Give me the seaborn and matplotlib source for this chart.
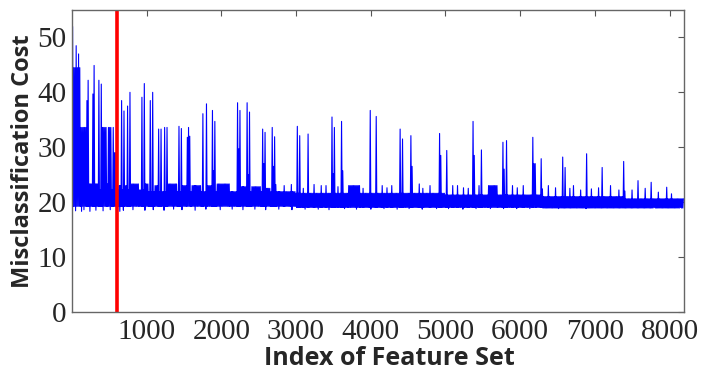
import numpy as np
import pandas as pd
import matplotlib
matplotlib.use("Agg")
import matplotlib.pyplot as plt
import seaborn as sns

# ---- data ----
n_sets = 8192
red_index = 603

band_edges = [1, 1000, 3000, 5000, 6300, 7400, 8193]
band_lo = [19.2, 19.2, 19.0, 19.0, 18.9, 18.9]
band_hi = [22.2, 21.9, 21.6, 21.3, 21.0, 20.6]

plateau_start = [1, 110, 230, 300, 400, 460, 485, 540, 620, 700, 790, 980, 1100, 1280, 1480,
                 1600, 1800, 1930, 2260, 2400, 2600, 3700, 5570]
plateau_end = [110, 230, 270, 345, 460, 485, 525, 600, 660, 740, 900, 1030, 1150, 1410, 1530,
               1730, 1870, 2120, 2340, 2530, 2660, 3850, 5690]
plateau_top = [44.5, 33.6, 23.3, 23.3, 33.6, 23.3, 33.6, 29.0, 23.0, 23.0, 23.3, 23.3, 23.0,
               23.3, 23.0, 23.0, 23.0, 23.3, 22.8, 22.8, 22.5, 23.0, 23.0]

spike_idx = [8, 60, 88, 190, 220, 280, 292, 360, 385, 545, 663, 685, 745, 768, 933, 968,
             1044, 1071, 1155, 1190, 1230, 1262, 1422, 1455, 1538, 1550, 1575, 1747, 1792,
             1880, 1915, 2215, 2250, 2348, 2380, 2548, 2585, 2673, 2713, 3007, 3050, 3150,
             3474, 3505, 3608, 3985, 4075, 4386, 4425, 4538, 4916, 4935, 5010, 5366, 5380,
             5477, 5766, 5806, 6167, 6190, 6273, 6562, 6600, 6888, 7088, 7377, 7577, 7742, 7964]
spike_val = [52.0, 48.5, 47.0, 38.5, 42.2, 39.7, 44.9, 42.2, 41.5, 33.6, 38.5, 36.6, 37.5, 40.0,
             39.1, 41.6, 38.5, 40.0, 33.3, 33.3, 33.6, 33.6, 33.8, 33.4, 31.8, 33.6, 32.0, 36.1,
             37.9, 36.7, 34.7, 38.1, 36.7, 38.1, 36.4, 33.3, 32.7, 33.6, 31.9, 33.8, 32.1, 32.4,
             35.5, 33.6, 34.7, 36.7, 35.6, 33.3, 31.5, 32.1, 32.5, 28.5, 29.4, 34.7, 28.5, 29.5,
             30.9, 31.2, 31.8, 27.0, 27.9, 28.2, 26.3, 28.8, 26.3, 27.4, 23.9, 23.6, 22.7]

shoulder_idx = [1430, 1545, 1755, 1900, 2225, 2360, 2560, 2690, 3020, 3160, 3490, 3615, 3995,
                4395, 4545, 4925, 5372, 5785, 6180]
shoulder_val = [29.0, 29.0, 25.0, 25.7, 29.7, 25.0, 27.0, 26.5, 25.7, 28.8, 25.2, 25.7, 29.1,
                27.0, 26.5, 26.0, 28.0, 26.0, 27.0]

bump_idx = [2726, 2837, 2927, 3100, 3238, 3327, 3394, 3560, 3900, 4151, 4220, 4284, 4640, 4700,
            4796, 5085, 5152, 5240, 5300, 5450, 5886, 5950, 6041, 6300, 6375, 6465, 6665, 6709,
            6798, 6950, 7043, 7199, 7310, 7400, 7489, 7666, 7844, 8023]
bump_val = [23.2, 23.0, 23.2, 22.5, 23.2, 23.0, 23.0, 22.8, 22.5, 23.0, 22.6, 23.0, 23.3, 22.5,
            23.0, 23.0, 23.0, 22.6, 22.5, 23.0, 23.0, 22.6, 23.0, 22.4, 23.0, 22.6, 22.5, 23.0,
            22.2, 22.4, 22.6, 23.0, 22.2, 22.0, 22.2, 22.5, 21.8, 21.5]

dip_idx = [60, 130, 170, 250, 330, 420, 520, 640, 700, 820, 980, 1100, 1240, 1370, 1480, 1650,
           1800, 1990, 2150, 2300, 2450, 2600, 2780, 2950, 3120, 3300, 3450, 3650, 3820, 4000,
           4180, 4350, 4520, 4700, 4880, 5050, 5230, 5420, 5600, 5780, 5960, 6140, 6330, 6520,
           6700, 6880, 7060, 7250, 7440, 7620, 7800, 7980, 8150]
dip_val = [18.4, 18.3, 18.6, 18.3, 18.5, 18.4, 18.6, 18.3, 18.5, 18.6, 18.5, 18.6, 18.5, 18.7,
           18.6, 18.5, 18.7, 18.6, 18.7, 18.6, 18.7, 18.6, 18.7, 18.6, 18.7, 18.7, 18.6, 18.8,
           18.7, 18.7, 18.8, 18.7, 18.8, 18.7, 18.8, 18.8, 18.7, 18.8, 18.8, 18.8, 18.8, 18.8,
           18.9, 18.8, 18.9, 18.8, 18.9, 18.9, 18.9, 18.9, 19.0, 18.9, 19.0]

xticks = [1000, 2000, 3000, 4000, 5000, 6000, 7000, 8000]
yticks = [0, 10, 20, 30, 40, 50]

# ---- build the dense trace from the read values ----
step = 8
grid = np.arange(1, n_sets + 1, step)
vals = np.empty(len(grid))
for k, x in enumerate(grid):
    seg = np.searchsorted(band_edges, x, side="right") - 1
    seg = min(max(seg, 0), len(band_lo) - 1)
    vals[k] = band_lo[seg] if k % 2 == 0 else band_hi[seg]
    if k % 2 == 1:
        for s, e, t in zip(plateau_start, plateau_end, plateau_top):
            if s <= x <= e:
                vals[k] = max(vals[k], t)

def odd_k(idx):
    k = int(round((idx - 1) / step))
    if k % 2 == 0:
        k += 1
    return min(k, len(grid) - 1)

def even_k(idx):
    k = int(round((idx - 1) / step))
    if k % 2 == 1:
        k -= 1
    return max(k, 0)

for lst_i, lst_v in ((spike_idx, spike_val), (shoulder_idx, shoulder_val), (bump_idx, bump_val)):
    for i, v in zip(lst_i, lst_v):
        k = odd_k(i)
        vals[k] = max(vals[k], v)
for i, v in zip(dip_idx, dip_val):
    vals[even_k(i)] = v

df = pd.DataFrame({"index": grid, "cost": vals})

# ---- plot ----
sns.set_style("white")
plt.rcParams["font.family"] = ["Liberation Serif", "DejaVu Serif"]

fig = plt.figure(figsize=(7.01, 3.72), dpi=100)
ax = fig.add_axes([0.1027, 0.162, 0.873, 0.811])

sns.lineplot(data=df, x="index", y="cost", ax=ax, color="#0000ff", lw=0.8,
             estimator=None, sort=False)
ax.axvline(red_index, color="#ff0000", lw=2.6)

ax.set_xlim(1, n_sets)
ax.set_ylim(0, 55)
ax.set_xticks(xticks)
ax.set_yticks(yticks)
ax.tick_params(direction="in", top=True, right=True, length=4, width=0.8,
               color="#555555", labelsize=21)
ax.tick_params(axis="x", pad=5)
ax.tick_params(axis="y", pad=4)
for sp in ax.spines.values():
    sp.set_color("#666666")
    sp.set_linewidth(1.0)

ax.set_xlabel("Index of Feature Set", family=["Open Sans", "DejaVu Sans"],
              weight="bold", size=18)
ax.set_ylabel("Misclassification Cost", family=["Open Sans", "DejaVu Sans"],
              weight="bold", size=17)
ax.xaxis.set_label_coords(0.518, -0.115)
ax.yaxis.set_label_coords(-0.06, 0.5)

fig.savefig("out.png", dpi=100)
